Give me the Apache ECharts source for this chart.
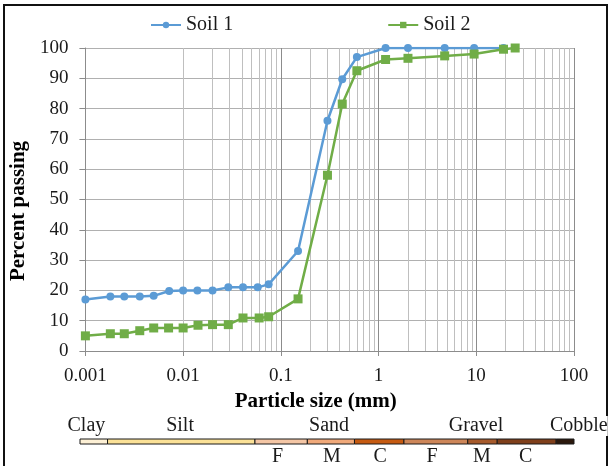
<!DOCTYPE html>
<html>
<head>
<meta charset="utf-8">
<script src="https://cdn.jsdelivr.net/npm/echarts@6/dist/echarts.min.js"></script>
<style>
  html, body { margin: 0; padding: 0; background: #fff; }
  #chart { width: 610px; height: 466px; }
</style>
</head>
<body>
<div id="chart"></div>
<script>
// grain size data
const soil1Size = [0.001, 0.0018, 0.0025, 0.0036, 0.005, 0.0072, 0.01, 0.014, 0.02, 0.029, 0.041, 0.058, 0.075, 0.15, 0.3, 0.425, 0.6, 1.18, 2, 4.75, 9.5, 19]
const soil1Pass = [17, 18, 18, 18, 18.2, 19.8, 20, 20, 20, 21, 21, 21, 22, 33, 76, 89.7, 97, 100, 100, 100, 100, 100]
const soil2Size = [0.001, 0.0018, 0.0025, 0.0036, 0.005, 0.0071, 0.01, 0.0142, 0.02, 0.029, 0.041, 0.06, 0.075, 0.15, 0.3, 0.425, 0.6, 1.18, 2, 4.75, 9.5, 19, 25]
const soil2Pass = [5, 5.7, 5.7, 6.7, 7.6, 7.6, 7.6, 8.5, 8.7, 8.7, 10.9, 10.9, 11.3, 17.2, 58, 81.5, 92.5, 96.2, 96.6, 97.4, 98, 99.6, 100]

// classification band under the axis
const bandEdges = [0.001, 0.0019, 0.059, 0.2, 0.6, 1.9, 8.4, 16.7, 66, 100]
const bandColors = ['#fdf0d5', '#fbe197', '#f4c6a5', '#f0a97a', '#c55a11', '#cd8659', '#a65a2c', '#7f3f1b', '#2b180c']
const topNames = ['Clay', 'Silt', 'Sand', 'Gravel', 'Cobble']
const topAt = [0.00116, 0.0103, 0.332, 10.2, 112]
const subNames = ['F', 'M', 'C', 'F', 'M', 'C']
const subAt = [0.1, 0.355, 1.09, 3.65, 11.7, 32.5]

const serif = 'Liberation Serif'

const toPairs = (xs, ys) => xs.map((x, i) => [x, ys[i]])

// minor log grid lines (2..9 inside every decade)
const minorLines = []
for (let d = -3; d < 2; d++) {
  for (let k = 2; k <= 9; k++) {
    minorLines.push({ xAxis: k * Math.pow(10, d) })
  }
}

const bandData = bandColors.map((c, i) => [bandEdges[i], bandEdges[i + 1], i])
const labelData = topNames.map((n, i) => [topAt[i], 1, n])
  .concat(subNames.map((n, i) => [subAt[i], 0, n]))

const chart = echarts.init(document.getElementById('chart'))

const option = {
  animation: false,
  legend: {
    left: 145,
    top: 10,
    itemWidth: 30,
    itemHeight: 8,
    itemGap: 154,
    textStyle: { fontFamily: serif, fontSize: 20, color: '#1a1a1a' },
    data: ['Soil 1', 'Soil 2']
  },
  graphic: [{
    type: 'polyline',
    z: -1,
    shape: { points: [[4, 466], [4, 5], [607, 5], [607, 466]] },
    style: { stroke: '#111', lineWidth: 2, fill: null }
  }],
  grid: [
    { left: 80, right: 36, top: 48, bottom: 115 },
    { left: 80, right: 36, top: 439, height: 5 }
  ],
  xAxis: [{
    type: 'log',
    gridIndex: 0,
    logBase: 10,
    min: 0.001,
    max: 100,
    name: 'Particle size (mm)',
    nameLocation: 'middle',
    nameGap: 36,
    nameTextStyle: { fontFamily: serif, fontSize: 21, fontWeight: 'bold', color: '#000', padding: [0, 28, 0, 0] },
    axisLine: { lineStyle: { color: '#8c8c8c' } },
    axisTick: { show: true, length: 5, lineStyle: { color: '#8c8c8c' } },
    axisLabel: {
      fontFamily: serif, fontSize: 19, color: '#1a1a1a', margin: 16,
      formatter: v => String(v)
    },
    splitLine: { show: true, lineStyle: { color: '#8c8c8c', width: 1 } }
  }, {
    type: 'log',
    gridIndex: 1,
    logBase: 10,
    min: 0.001,
    max: 100,
    show: false
  }],
  yAxis: [{
    type: 'value',
    gridIndex: 0,
    min: 0,
    max: 100,
    interval: 10,
    name: 'Percent passing',
    nameLocation: 'middle',
    nameGap: 46,
    nameTextStyle: { fontFamily: serif, fontSize: 21, fontWeight: 'bold', color: '#000', padding: [0, 23, 0, 0] },
    axisLine: { show: true, lineStyle: { color: '#8c8c8c' } },
    axisTick: { show: true, length: 6, lineStyle: { color: '#8c8c8c' } },
    axisLabel: { fontFamily: serif, fontSize: 19, color: '#1a1a1a', margin: 17 },
    splitLine: { show: true, lineStyle: { color: '#b0b0b0', width: 1 } }
  }, {
    type: 'value',
    gridIndex: 1,
    min: 0,
    max: 1,
    show: false
  }],
  series: [
    {
      name: 'Soil 1',
      type: 'line',
      xAxisIndex: 0,
      yAxisIndex: 0,
      data: toPairs(soil1Size, soil1Pass),
      symbol: 'circle',
      symbolSize: 8,
      itemStyle: { color: '#5b9bd5' },
      lineStyle: { color: '#5b9bd5', width: 2.5 },
      z: 3,
      markLine: {
        silent: true,
        symbol: 'none',
        label: { show: false },
        lineStyle: { color: '#bfbfbf', width: 1, type: 'solid' },
        data: minorLines,
        z: 1
      }
    },
    {
      name: 'Soil 2',
      type: 'line',
      xAxisIndex: 0,
      yAxisIndex: 0,
      data: toPairs(soil2Size, soil2Pass),
      symbol: 'rect',
      symbolSize: 9,
      itemStyle: { color: '#70ad47' },
      lineStyle: { color: '#70ad47', width: 2.5 },
      z: 3
    },
    {
      type: 'custom',
      xAxisIndex: 1,
      yAxisIndex: 1,
      data: bandData,
      silent: true,
      renderItem: (params, api) => {
        const p0 = api.coord([api.value(0), 0])
        const p1 = api.coord([api.value(1), 1])
        return {
          type: 'rect',
          shape: { x: p0[0], y: p1[1], width: p1[0] - p0[0], height: p0[1] - p1[1] },
          style: { fill: bandColors[api.value(2)], stroke: '#1a1a1a', lineWidth: 1 }
        }
      }
    },
    {
      type: 'custom',
      xAxisIndex: 1,
      yAxisIndex: 1,
      data: labelData,
      silent: true,
      clip: false,
      z: 5,
      renderItem: (params, api) => {
        const row = api.value(1)
        const p = api.coord([api.value(0), row])
        return {
          type: 'text',
          x: p[0],
          y: row === 1 ? p[1] - 13 : p[1] + 13,
          style: {
            text: labelData[params.dataIndex][2],
            font: '20px "Liberation Serif"',
            fill: '#1a1a1a',
            backgroundColor: row === 1 && params.dataIndex === 4 ? '#fff' : null,
            align: 'center',
            verticalAlign: 'middle'
          }
        }
      }
    }
  ]
}

chart.setOption(option)
</script>
</body>
</html>
